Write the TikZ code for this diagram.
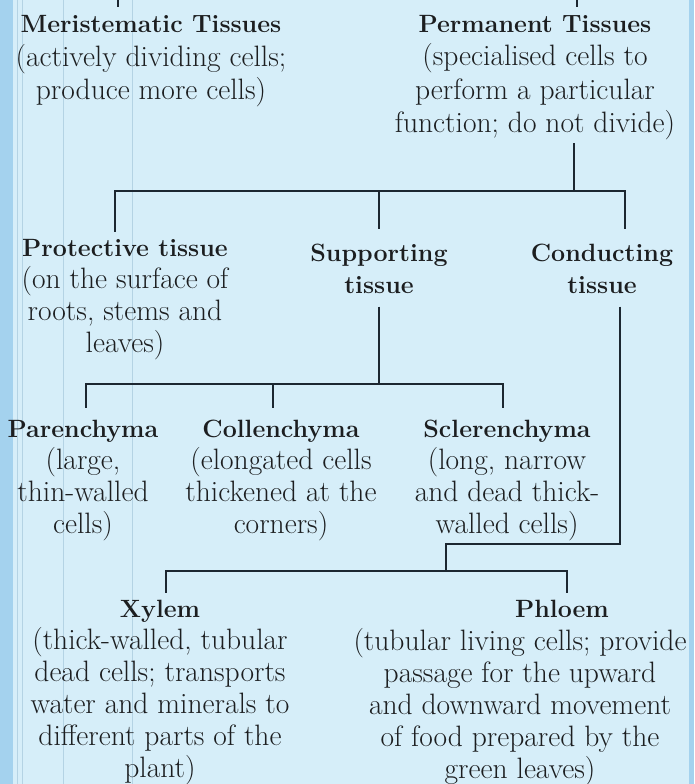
\documentclass[tikz,border=0pt]{standalone}
\usepackage{xcolor}
\usepackage{tikz}
\usetikzlibrary{positioning,calc}
\definecolor{sheetBlue}{HTML}{D6EEF9}
\definecolor{edgeBlue}{HTML}{A4D2EE}
\definecolor{ruleBlue}{HTML}{B4D3E4}
\definecolor{inkDark}{HTML}{1C1E20}
\definecolor{lineDark}{HTML}{1C2731}
\newcommand{\tname}[1]{{\fontsize{25}{32}\selectfont\bfseries #1}}

\begin{document}
\begin{tikzpicture}[x=1pt,y=-1pt,
  tissue/.style={align=center, inner sep=0pt, anchor=north, text=inkDark,
    font=\fontsize{29.5}{32}\selectfont},
  toptissue/.style={tissue, font=\fontsize{29.5}{33.5}\selectfont},
  link/.style={draw=lineDark, line width=1.6pt}]
  % the page
  \fill[sheetBlue] (0,0) rectangle (694,784);
  \useasboundingbox (0,0) rectangle (694,784);
  \fill[edgeBlue] (0,0) rectangle (13,784);
  \fill[edgeBlue] (689,0) rectangle (694,784);
  \foreach \rx in {17,22,63,132}
    \draw[ruleBlue, line width=0.8pt] (\rx,0) -- (\rx,784);

  % tissues
  \node[toptissue] (meri) at (151,15.6) {\tname{Meristematic Tissues}\\(actively dividing cells;\\produce more cells)};
  \node[toptissue] (perm) at (535,15) {\tname{Permanent Tissues}\\(specialised cells to\\perform a particular\\function; do not divide)};
  \node[tissue] (prot) at (125,239.6) {\tname{Protective tissue}\\(on the surface of\\roots, stems and\\leaves)};
  \node[tissue] (supp) at (379,243.6) {\tname{Supporting}\\\tname{tissue}};
  \node[tissue] (cond) at (602,243.6) {\tname{Conducting}\\\tname{tissue}};
  \node[tissue] (paren) at (83,419.6) {\tname{Parenchyma}\\(large,\\thin-walled\\cells)};
  \node[tissue] (collen) at (281,419.6) {\tname{Collenchyma}\\(elongated cells\\thickened at the\\corners)};
  \node[tissue] (scler) at (507,419.6) {\tname{Sclerenchyma}\\(long, narrow\\and dead thick-\\walled cells)};
  \node[tissue] (xylem) at (160,599.6) {\tname{Xylem}\\(thick-walled, tubular\\dead cells; transports\\water and minerals to\\different parts of the\\plant)};
  \node[tissue] (phloem) at (562,599.6) {\tname{Phloem}};
  \node[tissue] (phloemtxt) at (520,628) {(tubular living cells; provide\\passage for the upward\\and downward movement\\of food prepared by the\\green leaves)};

  % junctions
  \coordinate (meritop) at (118,0);
  \coordinate (permtop) at (577,0);
  \coordinate (b1l) at (115,191);
  \coordinate (b1p) at (574,191);
  \coordinate (b1r) at (625,191);
  \coordinate (b2l) at (86,384);
  \coordinate (b2m) at (273,384);
  \coordinate (b2r) at (503,384);
  \coordinate (c1) at (620,544);
  \coordinate (c2) at (446,571);
  \coordinate (b3l) at (166,571);
  \coordinate (b3r) at (567,571);

  % connectors
  \draw[link] (meritop) -- ([yshift=-7pt]meritop);
  \draw[link] (permtop) -- ([yshift=-7pt]permtop);
  \draw[link] ([yshift=-3pt]perm.south -| b1p) -- (b1p);
  \draw[link] ([yshift=8pt]prot.north -| b1l) -- (b1l) -- (b1r) -- ([yshift=15pt]cond.north -| b1r);
  \draw[link] ([yshift=15pt]supp.north) -- (supp.north |- b1l);
  \draw[link] ([yshift=-13pt]supp.south) -- (supp.south |- b2l);
  \draw[link] ([yshift=12pt]paren.north -| b2l) -- (b2l) -- (b2r) -- ([yshift=12pt]scler.north -| b2r);
  \draw[link] (b2m) -- ([yshift=12pt]collen.north -| b2m);
  \draw[link] ([yshift=-13pt]cond.south -| c1) -- (c1) -| (c2);
  \draw[link] ([yshift=7pt]xylem.north -| b3l) -- (b3l) -- (b3r) -- ([yshift=7pt]phloem.north -| b3r);
\end{tikzpicture}
\end{document}
